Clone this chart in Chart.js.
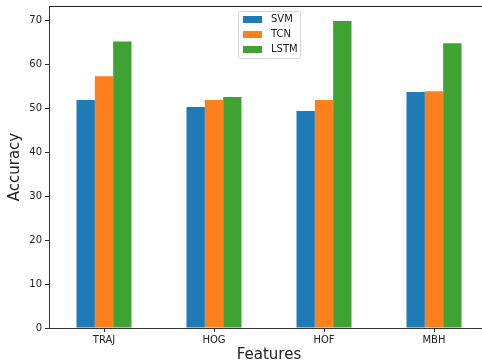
<!DOCTYPE html>
<html>
<head>
<meta charset="utf-8">
<script src="https://cdn.jsdelivr.net/npm/chart.js@4.4.0/dist/chart.umd.min.js"></script>
<style>
  html, body { margin: 0; padding: 0; background: #fff; }
  #wrap { width: 482px; height: 364px; overflow: hidden; position: relative; }
  canvas { display: block; }
</style>
</head>
<body>
<div id="wrap"><canvas id="myChart" width="492" height="364"></canvas></div>
<script>
// datos
const features = ['TRAJ', 'HOG', 'HOF', 'MBH'];
const svm = [51.9, 50.3, 49.4, 53.7];
const tcn = [57.3, 51.9, 51.9, 53.9];
const lstm = [65.2, 52.6, 69.9, 64.8];
const yTicks = [0, 10, 20, 30, 40, 50, 60, 70];

const FONT = 'DejaVu Sans';

// leyenda dentro del area del grafico (upper center, como matplotlib)
const legendInside = {
    id: 'legendInside',
    afterDraw(chart) {
        const ctx = chart.ctx;
        const area = chart.chartArea;
        const sets = chart.data.datasets;
        const w = 62, rowH = 15;
        const h = sets.length * rowH + 2;
        const x = Math.round((area.left + area.right) / 2 - w / 2);
        const y = area.top + 5;
        ctx.save();
        ctx.fillStyle = 'rgba(255,255,255,0.8)';
        ctx.strokeStyle = '#d6d6d6';
        ctx.lineWidth = 1;
        ctx.beginPath();
        ctx.roundRect(x + 0.5, y + 0.5, w, h, 2);
        ctx.fill();
        ctx.stroke();
        ctx.font = '10px "' + FONT + '"';
        ctx.textBaseline = 'middle';
        sets.forEach((ds, i) => {
            const cy = y + 8.5 + i * rowH;
            ctx.fillStyle = ds.backgroundColor;
            ctx.fillRect(x + 5, cy - 3.5, 19, 7);
            ctx.fillStyle = '#222';
            ctx.fillText(ds.label, x + 33, cy);
        });
        ctx.restore();
    }
};

// borde superior del area
const topSpine = {
    id: 'topSpine',
    afterDraw(chart) {
        const ctx = chart.ctx;
        const a = chart.chartArea;
        ctx.save();
        ctx.strokeStyle = '#222';
        ctx.lineWidth = 1;
        ctx.beginPath();
        ctx.moveTo(a.left, a.top + 0.5);
        ctx.lineTo(a.right, a.top + 0.5);
        ctx.stroke();
        ctx.restore();
    }
};

document.addEventListener('DOMContentLoaded', () => {
    const ctx = document.getElementById('myChart').getContext('2d');
    new Chart(ctx, {
        type: 'bar',
        data: {
            labels: features,
            datasets: [
                { label: 'SVM', data: svm, backgroundColor: '#1f7bb6' },
                { label: 'TCN', data: tcn, backgroundColor: '#ff7f1c' },
                { label: 'LSTM', data: lstm, backgroundColor: '#3ea332' }
            ]
        },
        options: {
            responsive: false,
            animation: false,
            devicePixelRatio: 1,
            layout: { padding: { top: 6, right: 3, left: 0, bottom: 0 } },
            datasets: {
                bar: { categoryPercentage: 0.5, barPercentage: 1.0, borderWidth: 0 }
            },
            scales: {
                x: {
                    grid: { drawOnChartArea: false, tickLength: 4, color: '#333', offset: false },
                    border: { color: '#333' },
                    ticks: { color: '#222', font: { family: FONT, size: 10 }, padding: 2, maxRotation: 0 },
                    title: { display: true, text: 'Features', color: '#222', font: { family: FONT, size: 15 }, padding: { top: 0, bottom: 0 } },
                    afterFit: (scale) => { scale.height = 36; scale.paddingLeft = 0; scale.paddingRight = 0; }
                },
                y: {
                    min: 0,
                    max: 73.3,
                    grid: { drawOnChartArea: false, tickLength: 4, color: '#333' },
                    border: { color: '#333' },
                    afterBuildTicks: (scale) => { scale.ticks = yTicks.map(v => ({ value: v })); },
                    ticks: { color: '#222', font: { family: FONT, size: 10 }, padding: 3 },
                    title: { display: true, text: 'Accuracy', color: '#222', font: { family: FONT, size: 15 }, padding: { top: 6, bottom: 0 } },
                    afterFit: (scale) => { scale.width = 49; scale.paddingTop = 0; scale.paddingBottom = 0; }
                }
            },
            plugins: {
                legend: { display: false },
                tooltip: { enabled: false }
            }
        },
        plugins: [legendInside, topSpine]
    });
});
</script>
</body>
</html>
